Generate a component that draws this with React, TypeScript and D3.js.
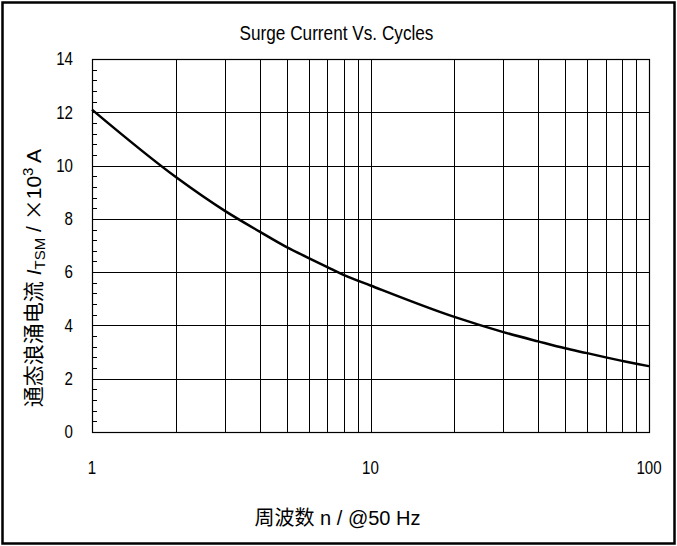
import React, { useRef, useEffect } from "react";
import * as d3 from "d3";

// curve
const cycles = [1, 2, 3, 4, 5, 6, 7, 8, 10, 20, 30, 40, 50, 60, 70, 80, 90, 100];
const surge = [12.1, 9.57, 8.3, 7.52, 6.94, 6.53, 6.19, 5.9, 5.5, 4.32, 3.75, 3.4, 3.14, 2.96, 2.8, 2.67, 2.56, 2.47];

const xTickValues = [1, 10, 100];
const yTickValues = [0, 2, 4, 6, 8, 10, 12, 14];

const title = "Surge Current Vs. Cycles";
const xLabel = "周波数 n / @50 Hz";

const FONT = "'Liberation Sans', Arial, 'Noto Sans CJK SC', sans-serif";
const CJK = "'Noto Sans CJK SC', sans-serif";
const SQUEEZE = 0.84; // the source text is narrow and tall

const App = () => {
  const svgRef = useRef<SVGSVGElement>(null);
  const width = 677;
  const height = 546;

  useEffect(() => {
    const svg = d3.select(svgRef.current);
    svg.selectAll("*").remove();

    const margin = { top: 59, right: 28, bottom: 114, left: 92 };
    const innerWidth = width - margin.left - margin.right;
    const innerHeight = height - margin.top - margin.bottom;

    svg.append("rect")
      .attr("x", 2.5).attr("y", 2.5)
      .attr("width", width - 5).attr("height", height - 5)
      .attr("fill", "white")
      .attr("stroke", "black")
      .attr("stroke-width", 2.5);

    const x = d3.scaleLog().domain([1, 100]).range([0, innerWidth]);
    const y = d3.scaleLinear().domain([0, 14]).range([innerHeight, 0]);

    const g = svg.append("g")
      .attr("transform", `translate(${margin.left},${margin.top})`);

    // vertical grid (log decades)
    const xGrid = d3.range(2, 10).concat(d3.range(10, 100, 10)).concat([100]);
    g.append("g")
      .selectAll("line")
      .data(xGrid)
      .enter()
      .append("line")
      .attr("x1", d => Math.round(x(d)) + 0.5)
      .attr("x2", d => Math.round(x(d)) + 0.5)
      .attr("y1", 0)
      .attr("y2", innerHeight)
      .attr("stroke", "black")
      .attr("stroke-width", 1);

    // horizontal grid
    g.append("g")
      .selectAll("line")
      .data(yTickValues.slice(1))
      .enter()
      .append("line")
      .attr("x1", 0)
      .attr("x2", innerWidth)
      .attr("y1", d => Math.round(y(d)) + 0.5)
      .attr("y2", d => Math.round(y(d)) + 0.5)
      .attr("stroke", "black")
      .attr("stroke-width", 1);

    // minor ticks on left axis, pointing inwards
    const minor = d3.range(0, 14.01, 0.4).filter(v => Math.abs(v / 2 - Math.round(v / 2)) > 0.01);
    g.append("g")
      .selectAll("line")
      .data(minor)
      .enter()
      .append("line")
      .attr("x1", 0)
      .attr("x2", 5)
      .attr("y1", d => Math.round(y(d)) + 0.5)
      .attr("y2", d => Math.round(y(d)) + 0.5)
      .attr("stroke", "black")
      .attr("stroke-width", 1);

    // plot frame
    g.append("rect")
      .attr("x", 0.5).attr("y", 0.5)
      .attr("width", innerWidth).attr("height", innerHeight)
      .attr("fill", "none")
      .attr("stroke", "black")
      .attr("stroke-width", 1.2);

    // x tick labels
    g.append("g")
      .selectAll("text")
      .data(xTickValues)
      .enter()
      .append("text")
      .attr("transform", d => `translate(${x(d)},${innerHeight + 42}) scale(${SQUEEZE},1)`)
      .attr("text-anchor", "middle")
      .attr("font-family", FONT)
      .attr("font-size", 18)
      .text(d => d);

    // y tick labels
    g.append("g")
      .selectAll("text")
      .data(yTickValues)
      .enter()
      .append("text")
      .attr("transform", d => `translate(-19,${y(d)}) scale(${SQUEEZE},1)`)
      .attr("dy", "0.35em")
      .attr("text-anchor", "end")
      .attr("font-family", FONT)
      .attr("font-size", 18)
      .text(d => d);

    // the curve
    const line = d3.line<number>()
      .x((d, i) => x(cycles[i]))
      .y(d => y(d))
      .curve(d3.curveMonotoneX);

    g.append("path")
      .datum(surge)
      .attr("d", line)
      .attr("fill", "none")
      .attr("stroke", "black")
      .attr("stroke-width", 2.5);

    // title
    svg.append("text")
      .attr("transform", `translate(${width / 2 - 2},40) scale(0.86,1)`)
      .attr("text-anchor", "middle")
      .attr("font-family", FONT)
      .attr("font-size", 20)
      .text(title);

    // x label
    svg.append("text")
      .attr("transform", `translate(${width / 2 - 1},525)`)
      .attr("text-anchor", "middle")
      .attr("font-family", FONT)
      .attr("font-size", 20)
      .text(xLabel);

    // y label with italic I, subscript TSM and superscript 3
    const yl = svg.append("text")
      .attr("transform", `translate(41,278) rotate(-90)`)
      .attr("text-anchor", "middle")
      .attr("font-family", FONT)
      .attr("font-size", 21);
    yl.append("tspan").text("通态浪涌电流 ");
    yl.append("tspan").attr("font-style", "italic").text("I");
    yl.append("tspan").attr("font-size", 15).attr("dy", 4).text("TSM");
    yl.append("tspan").attr("dy", -4).text(" / ");
    yl.append("tspan").attr("font-family", CJK).text("×");
    yl.append("tspan").text("10");
    yl.append("tspan").attr("font-size", 15).attr("dy", -8).text("3");
    yl.append("tspan").attr("dy", 8).text("  A");
  }, []);

  return (
    <svg
      ref={svgRef}
      width={width}
      height={height}
      style={{ position: "absolute", left: 0, top: 0, background: "white" }}
    ></svg>
  );
};

export default App;
